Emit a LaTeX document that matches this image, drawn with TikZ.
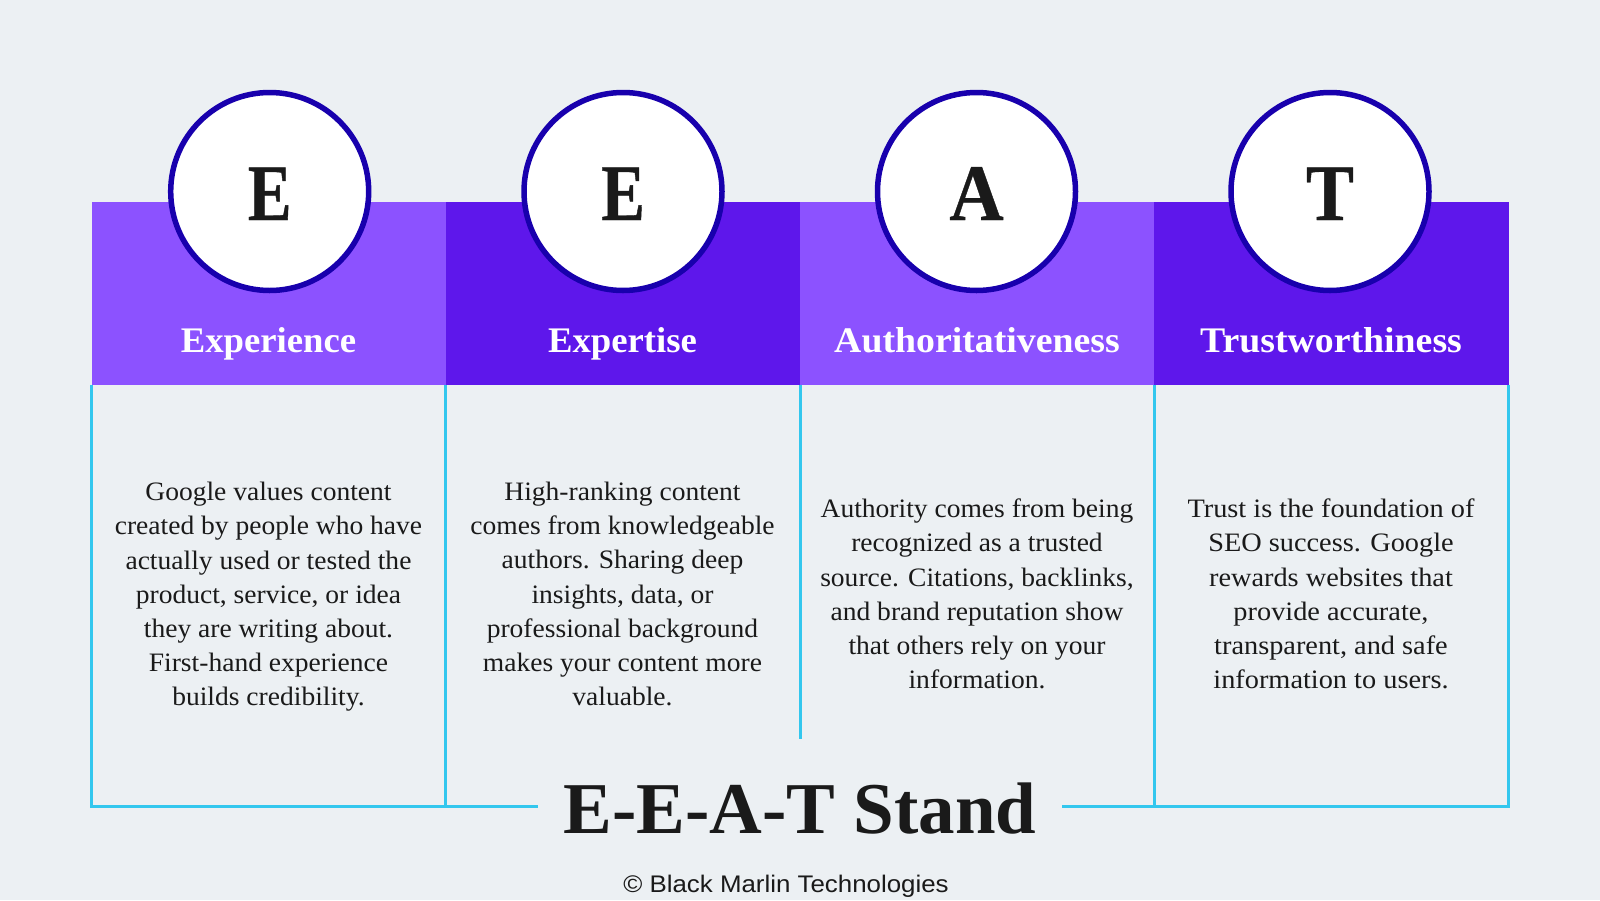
\documentclass[tikz,border=0pt]{standalone}
\usepackage{fontspec}
\setmainfont{Liberation Serif}
\newfontfamily\footfont[FakeStretch=1.078]{Liberation Sans}
\newfontfamily\bodyfam[FakeStretch=1.035]{Liberation Serif}
\newfontfamily\bodywide[FakeStretch=1.065]{Liberation Serif}
\newfontfamily\headfam[FakeStretch=1.02]{Liberation Serif}
\newfontfamily\headwide[FakeStretch=1.05]{Liberation Serif}
\newfontfamily\letterfam[FakeStretch=0.82,BoldFeatures={FakeBold=0.5}]{Liberation Serif}
\newfontfamily\letterA[FakeStretch=0.94,BoldFeatures={FakeBold=0.5}]{Liberation Serif}
\newfontfamily\letterT[FakeStretch=0.90,BoldFeatures={FakeBold=0.5}]{Liberation Serif}
\definecolor{bgc}{HTML}{ECF0F3}
\definecolor{lightp}{HTML}{8C52FF}
\definecolor{darkp}{HTML}{5E17EB}
\definecolor{ringc}{HTML}{1800AD}
\definecolor{linec}{HTML}{33C7EE}
\definecolor{inkc}{HTML}{1A1A1A}
\tikzset{
  band/.style={anchor=north west,minimum width=354.25pt,minimum height=183pt,inner sep=0pt,outer sep=0pt},
  ring/.style={circle,draw=ringc,line width=5.5pt,fill=white,minimum size=198pt,inner sep=0pt},
  letter/.style={anchor=base,text=inkc,inner sep=0pt},
  head/.style={anchor=base,text=white,inner sep=0pt},
  bodytext/.style={align=center,text=inkc,inner sep=0pt},
  rule/.style={draw=linec,line width=3pt},
}
\newcommand{\lettersize}{\fontsize{80}{80}\selectfont\bfseries}
\newcommand{\headsize}{\fontsize{36}{36}\selectfont\bfseries}
\newcommand{\bodysize}{\fontsize{26.6}{34.2}\selectfont}
\begin{document}
\begin{tikzpicture}[x=1pt,y=-1pt]
\path[use as bounding box,fill=bgc] (0,0) rectangle (1600,900);
\node[band,fill=lightp] (b1) at (91.5,201.5) {};
\node[band,fill=darkp] (b2) at (445.75,201.5) {};
\node[band,fill=lightp] (b3) at (800,201.5) {};
\node[band,fill=darkp] (b4) at (1154.25,201.5) {};
\coordinate (c0) at (91.5,806.5);
\coordinate (c1) at (445.75,806.5);
\coordinate (c3) at (1154.25,806.5);
\coordinate (c4) at (1508.5,806.5);
\coordinate (m) at (800,739);
\coordinate (tl) at (538,806.5);
\coordinate (tr) at (1062,806.5);
\draw[rule] (b1.south west) -- (c0) -- (c1);
\draw[rule] (c1) -- (tl);
\draw[rule] (b2.south west) -- (c1);
\draw[rule] (b3.south west) -- (m);
\draw[rule] (b4.south west) -- (c3);
\draw[rule] (tr) -- (c3) -- (c4) -- (b4.south east);
\node[ring] (r1) at (269.7,191.5) {};
\node[ring] (r2) at (623,191.5) {};
\node[ring] (r3) at (976.5,191.5) {};
\node[ring] (r4) at (1330,191.5) {};
\node[letter,font=\letterfam\lettersize] (l1) at (269.7,220) {E};
\node[letter,font=\letterfam\lettersize] (l2) at (623,220) {E};
\node[letter,font=\letterA\lettersize] (l3) at (976.5,220) {A};
\node[letter,font=\letterT\lettersize] (l4) at (1330,220) {T};
\node[head,font=\headfam\headsize] (h1) at (268.5,352) {Experience};
\node[head,font=\headfam\headsize] (h2) at (622.5,352) {Expertise};
\node[head,font=\headwide\headsize] (h3) at (977,352) {Authoritativeness};
\node[head,font=\headwide\headsize] (h4) at (1331,352) {Trustworthiness};
\node[bodytext,font=\bodyfam\bodysize] (t1) at (268.5,597) {Google values content\\created by people who have\\actually used or tested the\\product, service, or idea\\they are writing about.\\First-hand experience\\builds credibility.};
\node[bodytext,font=\bodyfam\bodysize] (t2) at (622.5,594) {High-ranking content\\comes from knowledgeable\\authors. Sharing deep\\insights, data, or\\professional background\\makes your content more\\valuable.};
\node[bodytext,font=\bodyfam\bodysize] (t3) at (977,594) {Authority comes from being\\recognized as a trusted\\source. Citations, backlinks,\\and brand reputation show\\that others rely on your\\information.};
\node[bodytext,font=\bodywide\bodysize] (t4) at (1331,594) {Trust is the foundation of\\SEO success. Google\\rewards websites that\\provide accurate,\\transparent, and safe\\information to users.};
\node[anchor=base,text=inkc,inner sep=0pt,font=\fontsize{73}{73}\selectfont\bfseries] (title) at (800,833) {E-E-A-T Stand};
\node[anchor=base,text=inkc,inner sep=0pt,font=\footfont\fontsize{24}{24}\selectfont] (foot) at (786,892) {© Black Marlin Technologies};
\end{tikzpicture}
\end{document}
